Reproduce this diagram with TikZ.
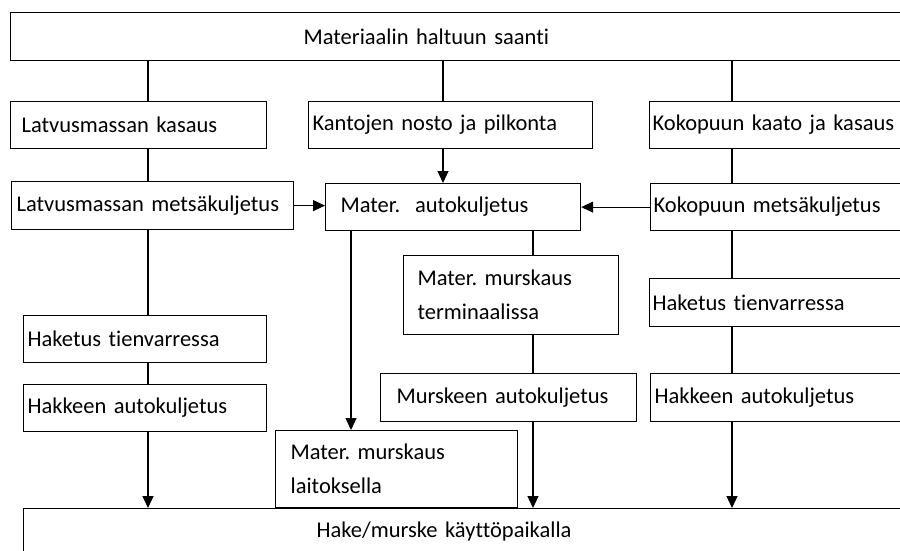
\documentclass[tikz,border=0pt]{standalone}
\usepackage{fontspec}
\setmainfont{Carlito}[Ligatures=NoCommon]
\frenchspacing
\usetikzlibrary{arrows.meta}
\tikzset{
  laatikko/.style={draw, line width=1.2pt, rectangle, anchor=north west, align=left, inner xsep=4pt, inner ysep=0pt, font=\fontsize{22.5}{34}\selectfont},
  nuoli/.style={-{Triangle[length=12pt,width=11pt]}}
}
\begin{document}
\begin{tikzpicture}[x=1pt, y=-1pt, line width=1.2pt]
				\useasboundingbox (0,0) rectangle (900,551);
				\node[laatikko, inner xsep=10pt, text width=875pt, minimum height=48pt] (yla) at (10,12) {\hspace*{283pt}Materiaalin haltuun saanti};
				\node[laatikko, inner xsep=11pt, text width=234pt, minimum height=47pt] (kasaus) at (10,101) {Latvusmassan kasaus};
				\node[laatikko, text width=276pt, minimum height=47pt] (kannot) at (308,101) {Kantojen nosto ja pilkonta};
				\node[laatikko, inner xsep=3pt, text width=254pt, minimum height=47pt] (kaato) at (649,101) {Kokopuun kaato ja kasaus};
				\node[laatikko, inner xsep=5pt, text width=272pt, minimum height=48pt] (lmetsa) at (11,181) {Latvusmassan metsäkuljetus};
				\node[laatikko, inner xsep=15pt, text width=225pt, minimum height=47pt] (auto) at (325,183) {Mater.\ \ autokuljetus};
				\node[laatikko, inner xsep=3pt, text width=254pt, minimum height=47pt] (kmetsa) at (650,183) {Kokopuun metsäkuljetus};
				\node[laatikko, inner xsep=14pt, text width=187pt, minimum height=79pt] (terminaali) at (403,255) {Mater. murskaus\\terminaalissa};
				\node[laatikko, inner xsep=3pt, text width=254pt, minimum height=48pt] (khaketus) at (649,278) {Haketus tienvarressa};
				\node[laatikko, text width=235pt, minimum height=47pt] (lhaketus) at (23,315) {Haketus tienvarressa};
				\node[laatikko, inner xsep=16pt, text width=224pt, minimum height=48pt] (murske) at (380,373) {Murskeen autokuljetus};
				\node[laatikko, text width=252pt, minimum height=48pt] (khakkeen) at (650,373) {Hakkeen autokuljetus};
				\node[laatikko, text width=235pt, minimum height=47pt] (lhakkeen) at (23,384) {Hakkeen autokuljetus};
				\node[laatikko, inner xsep=15pt, text width=212pt, minimum height=77pt] (laitos) at (275,430) {Mater. murskaus\\laitoksella};
				\node[laatikko, inner xsep=10pt, text width=870pt, minimum height=46pt] (hake) at (23,508) {\hspace*{283pt}Hake/murske käyttöpaikalla};
				% pystyviivojen paikat
				\coordinate (v1) at (148,0);
				\coordinate (v2) at (443,0);
				\coordinate (v3) at (732,0);
				\coordinate (v4) at (351,0);
				\coordinate (v5) at (533,0);
				\foreach \a/\b/\v in {yla/kasaus/v1, yla/kannot/v2, yla/kaato/v3, kasaus/lmetsa/v1, kaato/kmetsa/v3, lmetsa/lhaketus/v1, lhaketus/lhakkeen/v1, auto/terminaali/v5, terminaali/murske/v5, kmetsa/khaketus/v3, khaketus/khakkeen/v3}
				{
					\draw (\a.south -| \v) -- (\b.north -| \v);
				}
				\foreach \a/\b/\v in {kannot/auto/v2, lhakkeen/hake/v1, auto/laitos/v4, murske/hake/v5, khakkeen/hake/v3}
				{
					\draw[nuoli] (\a.south -| \v) -- (\b.north -| \v);
				}
				\draw[nuoli] (lmetsa.east) -- (lmetsa.east -| auto.west);
				\draw[nuoli] (kmetsa.west) -- (kmetsa.west -| auto.east);
			\end{tikzpicture}
\end{document}
